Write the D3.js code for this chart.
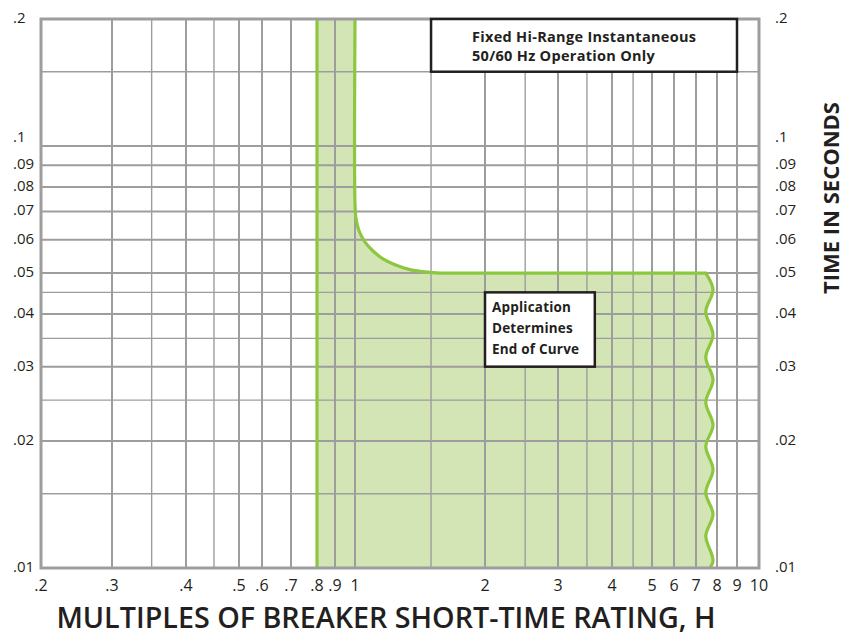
<!DOCTYPE html>
<html>
<head>
<meta charset="utf-8">
<script src="https://cdn.jsdelivr.net/npm/d3@7"></script>
<style>
  body { margin: 0; background: #fff; }
  svg { display: block; }
  text { font-family: "Open Sans", sans-serif; fill: #231f20; }
</style>
</head>
<body>
<div id="chart"></div>
<script>
const WIDTH = 845;
const HEIGHT = 637;
const LEFT = 41, RIGHT = 759, TOP = 19, BOTTOM = 568;

// ---- data ----
const xTicks = [0.2, 0.3, 0.4, 0.5, 0.6, 0.7, 0.8, 0.9, 1, 2, 3, 4, 5, 6, 7, 8, 9, 10];
const xTickLabels = ['.2', '.3', '.4', '.5', '.6', '.7', '.8', '.9', '1', '2', '3', '4', '5', '6', '7', '8', '9', '10'];
const xMinor = [0.35, 0.45, 1.5, 2.5, 3.5, 4.5];

const yTicks = [0.2, 0.1, 0.09, 0.08, 0.07, 0.06, 0.05, 0.04, 0.03, 0.02, 0.01];
const yTickLabels = ['.2', '.1', '.09', '.08', '.07', '.06', '.05', '.04', '.03', '.02', '.01'];
const yMinor = [0.15, 0.045, 0.035, 0.025, 0.015];

// pickup band: left edge at 0.8 H, right edge drops at 1 H then bends to 0.05 s
const bandLeft = 0.8;
const kneeX = [1, 1, 1.005, 1.022, 1.055, 1.101, 1.161, 1.238, 1.334, 1.453, 1.573, 1.75];
const kneeY = [0.2, 0.073, 0.0675, 0.0629, 0.0592, 0.0564, 0.054, 0.0523, 0.051, 0.0503, 0.05, 0.05];
const flatX = [1.75, 7.45];
const flatY = [0.05, 0.05];
// wavy "end of curve" line
const waveX = [7.45, 7.8, 7.45, 7.8, 7.45, 7.8, 7.45, 7.8, 7.45, 7.8, 7.45, 7.8, 7.45, 7.8, 7.65];
const waveY = [0.05, 0.0456, 0.0405, 0.0357, 0.0316, 0.0279, 0.0247, 0.0218, 0.0194, 0.0171, 0.0151, 0.0134, 0.0119, 0.0104, 0.01];

const note1Lines = ['Fixed Hi-Range Instantaneous', '50/60 Hz Operation Only'];
const note1Box = { x0: 1.5, x1: 9, y0: 0.2, y1: 0.15 };
const note2Lines = ['Application', 'Determines', 'End of Curve'];
const note2Box = { x0: 2, x1: 3.65, y0: 0.045, y1: 0.03 };

// the printed grid is not a perfect log grid, so each labelled line gets its own stop
const xStops = [41, 112, 186, 239, 262, 291, 317, 335, 355, 485, 558, 612, 652, 674, 696, 717, 737, 759];

const svg = d3.select('#chart')
  .append('svg')
  .attr('width', WIDTH)
  .attr('height', HEIGHT);

const xScale = d3.scaleLog().domain(xTicks).range(xStops);
const yScale = d3.scaleLog().domain([0.01, 0.2]).range([BOTTOM, TOP]);

const GRID = '#9d9d9d';
const GREEN = '#8dc63f';
const FILL = '#d3e4b5';

// join several line pieces into one path string
function piece(xs, ys, curve, first) {
  const pts = xs.map((x, i) => [x, ys[i]]);
  const s = d3.line().x(d => xScale(d[0])).y(d => yScale(d[1])).curve(curve)(pts);
  return first ? s : s.replace(/^M/, 'L');
}
const rightEdge =
  piece(kneeX, kneeY, d3.curveCatmullRom.alpha(0.5), true) +
  piece(flatX, flatY, d3.curveLinear, false) +
  piece(waveX, waveY, d3.curveMonotoneY, false);

// shaded band
svg.append('path')
  .attr('d', rightEdge +
    'L' + xScale(bandLeft) + ',' + yScale(0.01) +
    'L' + xScale(bandLeft) + ',' + yScale(0.2) + 'Z')
  .attr('fill', FILL);

// grid
const grid = svg.append('g');
grid.selectAll('.vmin').data(xMinor).enter().append('line')
  .attr('x1', d => xScale(d)).attr('x2', d => xScale(d))
  .attr('y1', TOP).attr('y2', BOTTOM)
  .attr('stroke', GRID).attr('stroke-width', 1.4);
grid.selectAll('.vmaj').data(xTicks).enter().append('line')
  .attr('x1', d => xScale(d)).attr('x2', d => xScale(d))
  .attr('y1', TOP).attr('y2', BOTTOM)
  .attr('stroke', GRID).attr('stroke-width', 2);
grid.selectAll('.hmin').data(yMinor).enter().append('line')
  .attr('x1', LEFT).attr('x2', RIGHT)
  .attr('y1', d => yScale(d)).attr('y2', d => yScale(d))
  .attr('stroke', GRID).attr('stroke-width', 1.4);
grid.selectAll('.hmaj').data(yTicks).enter().append('line')
  .attr('x1', LEFT).attr('x2', RIGHT)
  .attr('y1', d => yScale(d)).attr('y2', d => yScale(d))
  .attr('stroke', GRID).attr('stroke-width', 2);

// band outline
svg.append('path')
  .attr('d', rightEdge)
  .attr('fill', 'none')
  .attr('stroke', GREEN)
  .attr('stroke-width', 3.2);
svg.append('line')
  .attr('x1', xScale(bandLeft)).attr('x2', xScale(bandLeft))
  .attr('y1', yScale(0.2)).attr('y2', yScale(0.01))
  .attr('stroke', GREEN)
  .attr('stroke-width', 3.2);

// frame
svg.append('rect')
  .attr('x', LEFT).attr('y', TOP)
  .attr('width', RIGHT - LEFT).attr('height', BOTTOM - TOP)
  .attr('fill', 'none')
  .attr('stroke', GRID)
  .attr('stroke-width', 3);

// axis labels
svg.selectAll('.xlab').data(xTicks).enter().append('text')
  .attr('x', d => xScale(d))
  .attr('y', BOTTOM + 23)
  .attr('text-anchor', 'middle')
  .attr('font-size', 16)
  .text((d, i) => xTickLabels[i]);

// .1 sits a little above its line, as printed
const yLabelShift = d => (d === 0.1 ? -4 : 4);

svg.selectAll('.ylabL').data(yTicks).enter().append('text')
  .attr('x', 13)
  .attr('y', d => yScale(d) + yLabelShift(d))
  .attr('font-size', 15)
  .text((d, i) => yTickLabels[i]);

svg.selectAll('.ylabR').data(yTicks).enter().append('text')
  .attr('x', 775)
  .attr('y', d => yScale(d) + yLabelShift(d))
  .attr('font-size', 15)
  .text((d, i) => yTickLabels[i]);

svg.append('text')
  .attr('x', 386)
  .attr('y', 628)
  .attr('text-anchor', 'middle')
  .attr('font-size', 28.7)
  .attr('font-weight', 600)
  .text('MULTIPLES OF BREAKER SHORT-TIME RATING, H');

svg.append('text')
  .attr('transform', 'translate(839,198) rotate(-90)')
  .attr('text-anchor', 'middle')
  .attr('font-size', 22)
  .attr('font-weight', 700)
  .text('TIME IN SECONDS');

// note boxes
function noteBox(box, lines, padX, firstBase, step, size, spacing) {
  const x0 = xScale(box.x0), x1 = xScale(box.x1);
  const y0 = yScale(box.y0), y1 = yScale(box.y1);
  svg.append('rect')
    .attr('x', x0).attr('y', y0)
    .attr('width', x1 - x0).attr('height', y1 - y0)
    .attr('fill', '#fff')
    .attr('stroke', '#231f20')
    .attr('stroke-width', 2.5);
  svg.selectAll(null).data(lines).enter().append('text')
    .attr('x', x0 + padX)
    .attr('y', (d, i) => y0 + firstBase + i * step)
    .attr('font-size', size)
    .attr('font-weight', 700)
    .attr('letter-spacing', spacing)
    .text(d => d);
}
noteBox(note1Box, note1Lines, 41, 23, 19, 14.5, 0.3);
noteBox(note2Box, note2Lines, 7, 20, 21, 13.5, 0.2);
</script>
</body>
</html>
